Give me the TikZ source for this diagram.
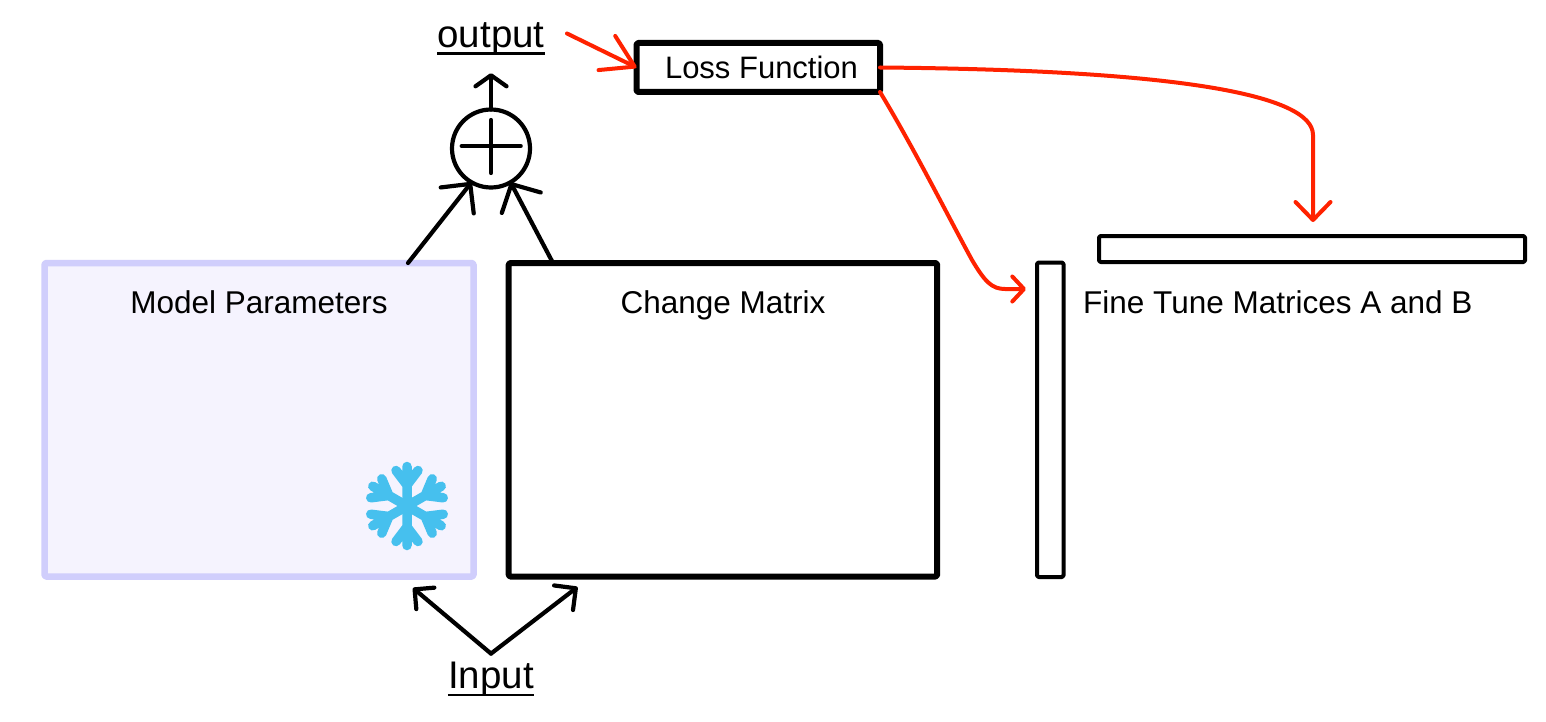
\documentclass[tikz,border=0pt]{standalone}
\usepackage{fontspec}
\setmainfont{Liberation Sans}
\usetikzlibrary{arrows.meta,calc}
\definecolor{redA}{RGB}{255,34,0}
\definecolor{mpfill}{RGB}{245,243,254}
\definecolor{mpdraw}{RGB}{208,206,252}
\definecolor{snowc}{RGB}{70,192,238}
\begin{document}
\begin{tikzpicture}[x=1pt,y=-1pt, line cap=round, line join=round,
  box/.style={draw, rectangle, inner sep=0pt, outer sep=0pt, anchor=north west, rounded corners=1.5pt},
  lbl/.style={font=\fontsize{31.5}{36}\selectfont, anchor=base, inner sep=0pt},
  big/.style={font=\fontsize{38.5}{44}\selectfont, anchor=base, inner sep=0pt},
  arr/.style={line width=4.2pt},
  redarr/.style={draw=redA, line width=4pt}
]
\fill[white] (0,0) rectangle (1546,722);
\useasboundingbox (0,0) rectangle (1546,722);

% boxes
\node[box, fill=mpfill, draw=mpdraw, line width=6.5pt, minimum width=429pt, minimum height=313.5pt] (mp) at (44.5,263) {};
\node[box, line width=6pt, minimum width=428.5pt, minimum height=313.5pt] (cm) at (508.7,263) {};
\node[box, line width=6pt, minimum width=243.5pt, minimum height=49pt] (loss) at (636.5,43) {};
\node[box, line width=4pt, minimum width=26.5pt, minimum height=314.5pt] (va) at (1037,262.5) {};
\node[box, line width=4pt, minimum width=426pt, minimum height=26pt] (hb) at (1099,236) {};
\node[circle, draw, line width=4.2pt, minimum size=78pt, inner sep=0pt, outer sep=0pt] (plus) at (491,148.5) {};
\draw[line width=4.2pt] (461.7,146) -- (520.7,146) (491,120) -- (491,173);

% labels
\node[lbl] (mpl) at (259,313) {Model Parameters};
\node[lbl] (cml) at (723,313) {Change Matrix};
\node[lbl, font=\fontsize{31}{36}\selectfont] (lossl) at (761.5,78.3) {Loss Function};
\node[lbl, anchor=base west] (ftl) at (1083,313) {Fine Tune Matrices A and B};
\node[big] (out) at (491,48) {output};
\node[big] (inp) at (491,688.3) {Input};
\draw[line width=2.5pt, line cap=butt] ([yshift=-5.3pt]out.base west) -- ([yshift=-5.3pt]out.base east);
\draw[line width=2.5pt, line cap=butt] ([yshift=-6.7pt]inp.base west) -- ([yshift=-6.7pt]inp.base east);

% snowflake
\begin{scope}[shift={(407,506)}, draw=snowc, line width=9.5pt]
\foreach \a in {30,90,150,210,270,330} {
  \draw[rotate=\a] (0,0) -- (39.5,0) (21,0) -- (35.5,11) (21,0) -- (35.5,-11);
}
\end{scope}

% coordinates
\coordinate (inMP) at (413,588);
\coordinate (inCM) at (577.5,587);
\coordinate (lossIn) at (567,33.5);
\coordinate (tB) at (1313,222);
\coordinate (tA) at (1026,289);

% black arrows
\draw[arr, -{Straight Barb[length=21pt,width=42pt,round]}] ([xshift=363.5pt]mp.north west) -- (plus.240);
\draw[arr, -{Straight Barb[length=21pt,width=44pt,round]}] ([xshift=44.3pt]cm.north west) -- (plus.300);
\draw[arr, -{Straight Barb[length=11pt,width=31pt,round]}] (plus.north) -- ([yshift=-17pt]out.south);
\draw[arr, -{Straight Barb[length=14pt,width=28pt,round]}] ([yshift=8pt]inp.north) -- (inMP);
\draw[arr, -{Straight Barb[length=15.5pt,width=31pt,round]}] ([yshift=8pt]inp.north) -- (inCM);

% red arrows
\draw[redarr, -{Straight Barb[length=31pt,width=38pt,round]}] (lossIn) -- (loss.west);
\draw[redarr, -{Straight Barb[length=18pt,width=35pt,round]}] (loss.east) .. controls (1180,70) and (1313,95) .. (1313,135) -- (tB);
\draw[redarr, -{Straight Barb[length=11.7pt,width=25pt,round]}] (loss.south east) .. controls (915,150) and (950,220) .. (972,260) .. controls (985,282) and (992,289) .. (1005,289) -- (tA);
\end{tikzpicture}
\end{document}
